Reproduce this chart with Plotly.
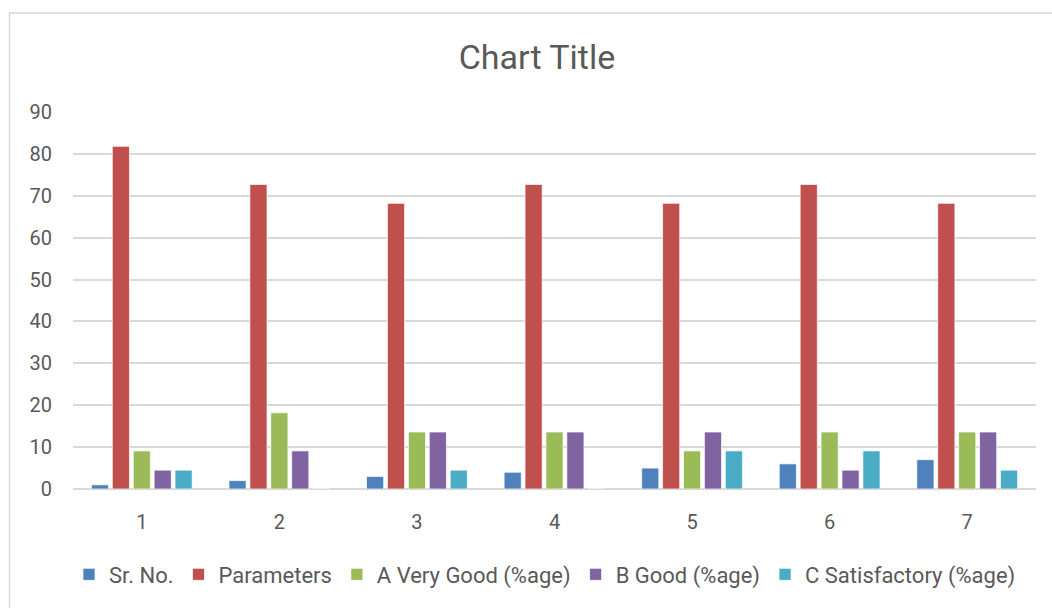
import plotly.graph_objects as go

categories = ["1", "2", "3", "4", "5", "6", "7"]
sr_no = [1, 2, 3, 4, 5, 6, 7]
parameters = [81.8, 72.7, 68.2, 72.7, 68.2, 72.7, 68.2]
a_very_good = [9.1, 18.2, 13.6, 13.6, 9.1, 13.6, 13.6]
b_good = [4.5, 9.1, 13.6, 13.6, 13.6, 4.5, 13.6]
c_satisfactory = [4.5, 0, 4.5, 0, 9.1, 9.1, 4.5]

series = [
    ("Sr. No.", sr_no, "#4F81BD"),
    ("Parameters", parameters, "#C0504D"),
    ("A Very Good (%age)", a_very_good, "#9BBB59"),
    ("B Good (%age)", b_good, "#8064A2"),
    ("C Satisfactory (%age)", c_satisfactory, "#4BACC6"),
]

W, H = 1052, 608
L, R, T, B = 73, 16, 112, 117
pw, ph = W - L - R, H - T - B

def px_x(px):
    return (px - L) / pw

def px_y(py):
    return (H - B - py) / ph

fig = go.Figure()
for name, vals, color in series:
    fig.add_trace(go.Bar(
        x=categories, y=vals, name=name,
        marker=dict(color=color, line=dict(color="rgba(255,255,255,0.7)", width=1)),
    ))

font_family = "Roboto, Noto Sans, sans-serif"
fig.update_layout(
    width=W, height=H,
    margin=dict(l=L, r=R, t=T, b=B),
    paper_bgcolor="white", plot_bgcolor="white",
    barmode="group", bargap=0.24, bargroupgap=0.18,
    title=dict(text="Chart Title", xref="container", x=537 / W, xanchor="center",
               yref="container", y=1 - 57 / H, yanchor="middle",
               font=dict(family=font_family, size=34, color="#595959")),
    font=dict(family=font_family, color="#595959"),
    legend=dict(orientation="h", x=px_x(545), xanchor="center",
                y=px_y(577), yanchor="middle",
                font=dict(size=22, color="#595959"),
                itemwidth=30, tracegroupgap=0),
    showlegend=True,
)
fig.update_xaxes(showgrid=False, showline=False, ticks="",
                 tickfont=dict(size=20, color="#595959"),
                 ticklabelstandoff=19)
fig.update_yaxes(range=[0, 90], dtick=10, showgrid=True,
                 gridcolor="#D9D9D9", gridwidth=1.5,
                 zeroline=True, zerolinecolor="#D9D9D9", zerolinewidth=1.5,
                 showline=False, ticks="",
                 tickfont=dict(size=20, color="#595959"),
                 ticklabelstandoff=20)

fig.add_shape(type="rect", xref="paper", yref="paper",
              x0=px_x(9.5), x1=px_x(1070), y0=px_y(12.5), y1=px_y(630),
              line=dict(color="#D9D9D9", width=1.5), fillcolor="rgba(0,0,0,0)",
              layer="below")

fig.write_html("out.html", config={"displayModeBar": False},
               post_script="document.body.style.margin='0';document.body.style.padding='0';")
